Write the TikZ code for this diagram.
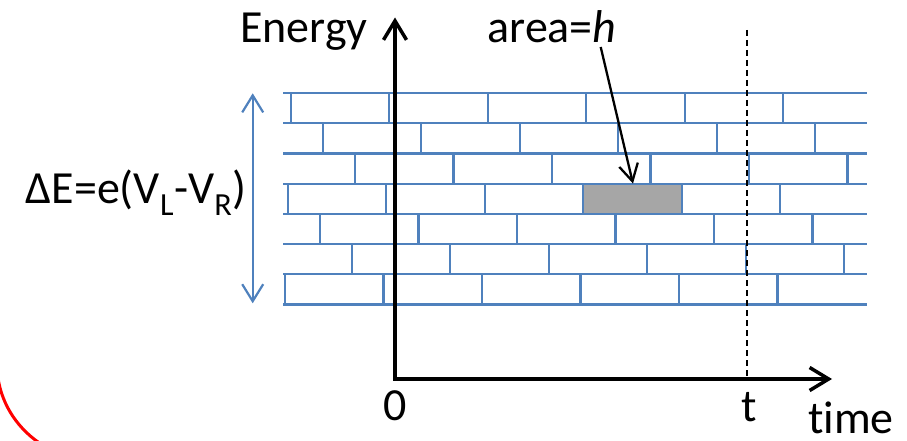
\documentclass[tikz,border=0pt]{standalone}
\usepackage{fontspec}
\setmainfont{Carlito}[Ligatures=NoCommon]
\usetikzlibrary{arrows.meta}
\definecolor{brickblue}{RGB}{79,129,189}
\definecolor{brickgray}{RGB}{166,166,166}
\tikzset{
  barbtip/.tip={Straight Barb[length=19pt,width=23pt,line width=3.5pt]},
  bluetip/.tip={Straight Barb[length=17pt,width=21pt,line width=2.2pt]},
  pointtip/.tip={Straight Barb[length=17pt,width=19pt,line width=2.3pt]}
}
\begin{document}
\begin{tikzpicture}[x=1pt,y=-1pt,
  lbl/.style={font=\fontsize{46}{50}\selectfont, inner sep=0pt},
  brick/.style={draw=brickblue, line width=2.2pt},
  axisline/.style={line width=4pt, line join=miter},
  dashline/.style={line width=1.3pt, dash pattern=on 6pt off 4pt},
  ringline/.style={draw=red, line width=3pt}]
\useasboundingbox (0,0) rectangle (907,441);
% highlighted brick
\node[fill=brickgray, minimum width=99pt, minimum height=30.2pt, inner sep=0pt, anchor=north west] (cell) at (583.3,183.6) {};
% brick rows
\foreach \k in {0,...,7}
  \draw[brick] (283,{93+30.2*\k}) -- (867,{93+30.2*\k});
\foreach \r/\x in {0/290.7,1/322.7,2/355,3/287.7,4/320,5/351.7,6/285}
  \foreach \j in {0,...,5}
    \draw[brick] ({\x+98.5*\j},{93+30.2*\r}) -- ++(0,30.2);
% energy span arrow
\coordinate (spantop) at (252.7,93.3);
\coordinate (spanbot) at (252.7,303.3);
\draw[brick, {bluetip}-{bluetip}] (spantop) -- (spanbot);
% dashed time line
\coordinate (dashtop) at (747,30);
\coordinate (dashbot) at (747,379);
\draw[dashline] (dashtop) -- (dashbot);
% axes
\coordinate (ytip) at (395,17.5);
\coordinate (origin) at (395,379);
\coordinate (xtip) at (832,379);
\draw[axisline, {barbtip}-{barbtip}] (ytip) -- (origin) -- (xtip);
% labels
\node[lbl, anchor=base] (energy) at (304,43) {Energy};
\node[lbl, anchor=base] (area) at (552,43) {area=\textit{h}};
\node[lbl, anchor=base] (dE) at (136,203) {ΔE=e(V\textsubscript{L}-V\textsubscript{R})};
\node[lbl, anchor=base] (zero) at (395,420) {0};
\node[lbl, anchor=base] (tlab) at (749,421) {t};
\node[lbl, anchor=base] (timelab) at (851,433.5) {time};
% pointer to highlighted brick
\coordinate (areastart) at (600.7,47);
\draw[line width=2.3pt, -{pointtip}] (areastart) -- (cell.north);
% red ring fragment
\draw[ringline] (-2,378) .. controls (2,405) and (18,430) .. (44,446);
\end{tikzpicture}
\end{document}
